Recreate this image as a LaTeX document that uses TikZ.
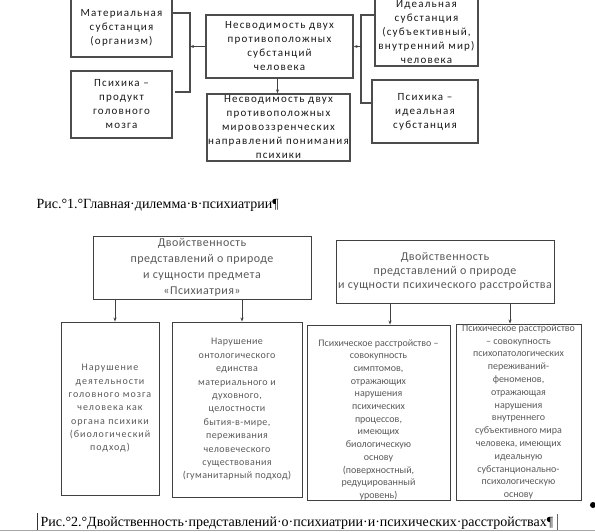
\documentclass[tikz,border=0pt]{standalone}
\usepackage{fontspec}
\setmainfont{Liberation Serif}
\newfontfamily\upfont{Carlito}[LetterSpace=11]
\newfontfamily\boxfont{Carlito}[LetterSpace=4]
\newfontfamily\wideboxfont{Carlito}[LetterSpace=10]
\newfontfamily\narrowboxfont{Carlito}
\usetikzlibrary{arrows.meta}

\begin{document}
\begin{tikzpicture}[x=1pt, y=-1pt,
    upbox/.style={draw=black!70, line width=1.3pt, align=center, inner sep=0pt,
        font=\upfont\fontsize{11}{14}\selectfont, text=black!90},
    lowbox/.style={draw=black!75, line width=0.9pt, align=center, inner sep=0pt, text=black!65},
    link/.style={draw=black!70, line width=1.3pt},
    arr/.style={-{Stealth[length=4pt, width=3pt]}, draw=black!75, line width=0.7pt},
    capfont/.style={font=\fontsize{14}{16}\selectfont, text=black}]
    \useasboundingbox (0,0) rectangle (595,531);
    \clip (0,0) rectangle (595,531);

    % Рис. 1
    \node[upbox, minimum width=101pt, minimum height=58pt] (mat) at (121.5,28)
	{Материальная\\субстанция\\(организм)};
    \node[upbox, minimum width=101pt, minimum height=67pt] (brain) at (121.5,104.5)
	{Психика –\\продукт\\головного\\мозга};
    \node[upbox, minimum width=147pt, minimum height=63pt] (subst) at (279.5,46.5)
	{Несводимость двух\\противоположных\\субстанций\\человека};
    \node[upbox, minimum width=143pt, minimum height=67pt] (views) at (278.5,127.5)
	{Несводимость двух\\противоположных\\мировоззренческих\\направлений понимания\\психики};
    \node[upbox, minimum width=103pt, minimum height=68pt] (ideal) at (426.5,32)
	{Идеальная\\субстанция\\(субъективный,\\внутренний мир)\\человека};
    \node[upbox, minimum width=106pt, minimum height=63pt] (psyideal) at (425,111.5)
	{Психика –\\идеальная\\субстанция};

    \coordinate (lbr) at (190,45);
    \coordinate (rbr) at (361,47);
    \draw[link] ([yshift=15pt]mat.east) -| (lbr) |- ([yshift=12.5pt,xshift=2pt]brain.east);
    \draw[link] ([yshift=17pt]ideal.west) -| (rbr) |- ([yshift=8.5pt]psyideal.west);
    \draw[arr] (subst.west) -- (subst.west -| lbr);
    \draw[arr] (subst.east -| rbr) -- (subst.east);
    \draw[arr] ([xshift=-2pt]subst.south) -- ([xshift=-2pt]subst.south |- views.north);

    \node[anchor=west, capfont] (cap1) at (33,205) {Рис.°1.°Главная·дилемма·в·психиатрии¶};

    % Рис. 2
    \node[lowbox, font=\boxfont\fontsize{12}{16}\selectfont,
	minimum width=218pt, minimum height=63pt] (dualpsy) at (202,267.5)
	{Двойственность\\представлений о природе\\и сущности предмета\\«Психиатрия»};
    \node[lowbox, font=\boxfont\fontsize{12}{14}\selectfont,
	minimum width=218pt, minimum height=63pt] (dualdis) at (445,271.5)
	{Двойственность\\представлений о природе\\и сущности психического расстройства};

    \node[lowbox, font=\wideboxfont\fontsize{10}{13.3}\selectfont,
	minimum width=98pt, minimum height=173pt] (bio) at (110,408.5)
	{Нарушение\\деятельности\\головного мозга\\человека как\\органа психики\\(биологический\\подход)};
    \node[lowbox, font=\boxfont\fontsize{10}{13.4}\selectfont,
	minimum width=130pt, minimum height=175pt] (human) at (237,409.5)
	{Нарушение\\онтологического\\единства\\материального и\\духовного,\\целостности\\бытия-в-мире,\\переживания\\человеческого\\существования\\(гуманитарный подход)};
    \node[lowbox, font=\narrowboxfont\fontsize{10}{12.7}\selectfont,
	minimum width=143pt, minimum height=175pt] (symp) at (378.5,412.5)
	{\rule{0pt}{21pt}Психическое расстройство –\\совокупность\\симптомов,\\отражающих\\нарушения\\психических\\процессов,\\имеющих\\биологическую\\основу\\(поверхностный,\\редуцированный\\уровень)};
    \node[lowbox, font=\narrowboxfont\fontsize{10}{12.8}\selectfont,
	minimum width=125pt, minimum height=176pt] (phen) at (518.5,412)
	{Психическое расстройство\\– совокупность\\психопатологических\\переживаний-\\феноменов,\\отражающая\\нарушения\\внутреннего\\субъективного мира\\человека, имеющих\\идеальную\\субстанционально-\\психологическую\\основу};

    \draw[arr] ([xshift=5pt]bio.north |- dualpsy.south) -- ([xshift=5pt]bio.north);
    \draw[arr] ([xshift=5pt]human.north |- dualpsy.south) -- ([xshift=5pt]human.north);
    \draw[arr] ([xshift=11.5pt]symp.north |- dualdis.south) -- ([xshift=11.5pt]symp.north);
    \draw[arr] ([xshift=-8.5pt]phen.north |- dualdis.south) -- ([xshift=-8.5pt]phen.north);

    \node[anchor=west, capfont] (cap2) at (37,523)
	{Рис.°2.°Двойственность·представлений·о·психиатрии·и·психических·расстройствах¶};
    \draw[black!80, line width=0.6pt] (37,513) -- (37,530);
    \draw[black!60, line width=0.6pt] ([xshift=1pt]cap2.east |- 0,514) -- ([xshift=1pt]cap2.east |- 0,530);
    \draw[black!35, line width=0.8pt] (0,530) -- (595,530);
    \fill[black] (593,505) circle (3);
\end{tikzpicture}
\end{document}
